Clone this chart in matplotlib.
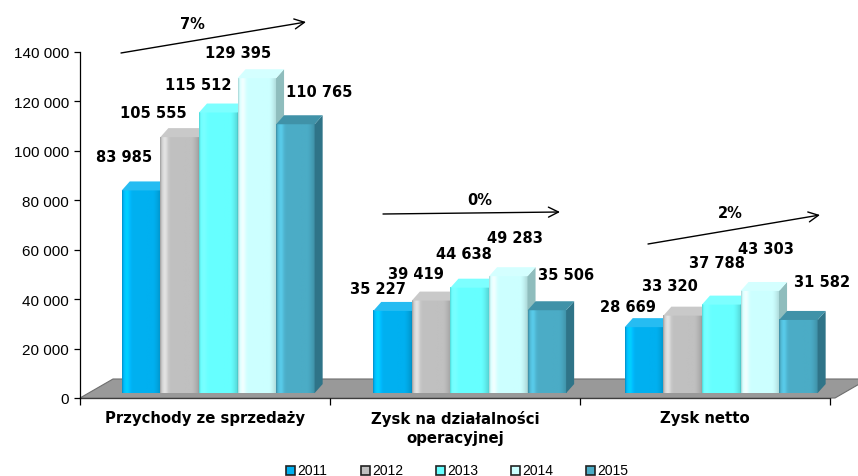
import matplotlib
matplotlib.use("Agg")
import matplotlib.pyplot as plt
import numpy as np
from matplotlib.patches import Polygon, Rectangle
from matplotlib.colors import to_rgb

# values in thousands PLN per year
categories = ["Przychody ze sprzedaży", "Zysk na działalności\noperacyjnej", "Zysk netto"]
years = ["2011", "2012", "2013", "2014", "2015"]
v2011 = [83985, 35227, 28669]
v2012 = [105555, 39419, 33320]
v2013 = [115512, 44638, 37788]
v2014 = [129395, 49283, 43303]
v2015 = [110765, 35506, 31582]
growth = ["7%", "0%", "2%"]

series = [v2011, v2012, v2013, v2014, v2015]
colors = ["#00b0f0", "#c0c0c0", "#66ffff", "#ccffff", "#4bacc6"]
side_colors = ["#0089bd", "#8e8e8e", "#49c4c4", "#8fbdbd", "#2f7488"]

# data label offsets in pixels (dx, dy) per category and series
lab_off = [[(-17, 34), (-26, 25), (-20, 28), (-19, 26), (24, 33)],
           [(-15, 22), (-15, 27), (-6, 34), (7, 39), (19, 36)],
           [(-16, 21), (-13, 30), (-4, 42), (6, 42), (24, 38)]]

W, H = 858, 477
fig = plt.figure(figsize=(W / 100, H / 100), dpi=100)
ax = fig.add_axes([80 / W, 78 / H, 750 / W, 346 / H])
ax.set_xlim(-0.5, 2.5)
ax.set_ylim(0, 140000)

upx = 140000 / 346          # value units per pixel
bw = 0.154                  # bar width
ddx, ddy = 0.032, 9 * upx   # depth of the 3d bars
base = 2000


def shade(c, f):
    r = np.array(to_rgb(c)) * f
    return np.clip(r, 0, 1)


def lighten(c, a):
    r = np.array(to_rgb(c))
    return r + (1 - r) * a


# grey floor
fl = Polygon([(-0.5, 0), (2.52, 0), (2.52 + 33 / 250, 19 * upx), (-0.5 + 33 / 250, 19 * upx)],
             closed=True, facecolor="#999999", edgecolor="#6e6e6e", lw=0.8, zorder=1, clip_on=False)
ax.add_patch(fl)

# horizontal shading profile for the rounded bar fronts
t = np.linspace(0, 1, 60)
prof = 1.0 + 0.18 * np.exp(-((t - 0.12) / 0.08) ** 2) - 0.16 * np.clip((t - 0.8) / 0.2, 0, 1) ** 1.5
prof[:2] *= 0.85

z = 2
for g in range(len(categories)):
    for j, vals in enumerate(series):
        v = vals[g]
        x0 = g - 0.256 + 0.1544 * j + 0.006 * g - bw / 2
        grad = np.array([[shade(colors[j], f) for f in prof]])
        ax.imshow(grad, extent=[x0, x0 + bw, base, v], aspect="auto",
                  interpolation="bilinear", zorder=z)
        side = Polygon([(x0 + bw, base), (x0 + bw, v), (x0 + bw + ddx, v + ddy), (x0 + bw + ddx, base + ddy)],
                       closed=True, facecolor=side_colors[j], edgecolor="none", zorder=z)
        top = Polygon([(x0, v), (x0 + bw, v), (x0 + bw + ddx, v + ddy), (x0 + ddx, v + ddy)],
                      closed=True, facecolor=lighten(colors[j], 0.15) if j != 4 else shade(colors[j], 0.85),
                      edgecolor="none", zorder=z)
        ax.add_patch(side)
        ax.add_patch(top)
        ax.annotate(f"{v:,}".replace(",", " "), (x0 + bw / 2, v),
                    xytext=lab_off[g][j], textcoords="offset pixels",
                    ha="center", va="center", fontsize=10.5, fontweight="bold",
                    family="DejaVu Sans", annotation_clip=False, zorder=20)
        z += 1

# growth arrows
arrows = [((-0.336, 139600), (0.404, 152140), (-0.052, 151730)),
          ((0.712, 74450), (1.42, 75260), (1.1, 80520)),
          ((1.772, 62310), (2.46, 74050), (2.1, 75260))]
for (s, e, tp), txt in zip(arrows, growth):
    ax.annotate("", xy=e, xytext=s, annotation_clip=False,
                arrowprops=dict(arrowstyle="->", lw=1.0, color="black", mutation_scale=18,
                                shrinkA=0, shrinkB=0))
    ax.text(tp[0], tp[1], txt, ha="center", va="center", fontsize=10.5, fontweight="bold",
            family="DejaVu Sans", clip_on=False)

ax.set_xlim(-0.5, 2.5)
ax.set_ylim(0, 140000)

for s in ["top", "right"]:
    ax.spines[s].set_visible(False)
ax.spines["left"].set_linewidth(0.9)
ax.spines["bottom"].set_linewidth(0.9)
ax.spines["bottom"].set_zorder(0.5)

yt = np.arange(0, 140001, 20000)
ax.set_yticks(yt)
ax.set_yticklabels([f"{y:,}".replace(",", " ") for y in yt], fontsize=11, family="Liberation Sans")
ax.tick_params(axis="y", direction="out", length=4, width=0.9, pad=4)

ax.set_xticks([-0.5, 0.5, 1.5, 2.5])
ax.set_xticklabels([])
ax.tick_params(axis="x", which="major", direction="out", length=5, width=0.9)
ax.set_xticks([0, 1, 2], minor=True)
ax.set_xticklabels(categories, minor=True, fontsize=10.7, fontweight="bold", family="DejaVu Sans",
                   linespacing=1.3)
ax.tick_params(axis="x", which="minor", length=0, pad=9)

# legend
for j, yr in enumerate(years):
    lx = 286 + 75 * j
    fig.patches.append(Rectangle((lx / W, (477 - 476) / H), 9 / W, 9 / H, transform=fig.transFigure,
                                 facecolor=colors[j], edgecolor="#222222", lw=1.2))
    fig.text((lx + 11) / W, (477 - 471) / H, yr, fontsize=10, family="Liberation Sans",
             ha="left", va="center")

fig.savefig("out.png", dpi=100)
